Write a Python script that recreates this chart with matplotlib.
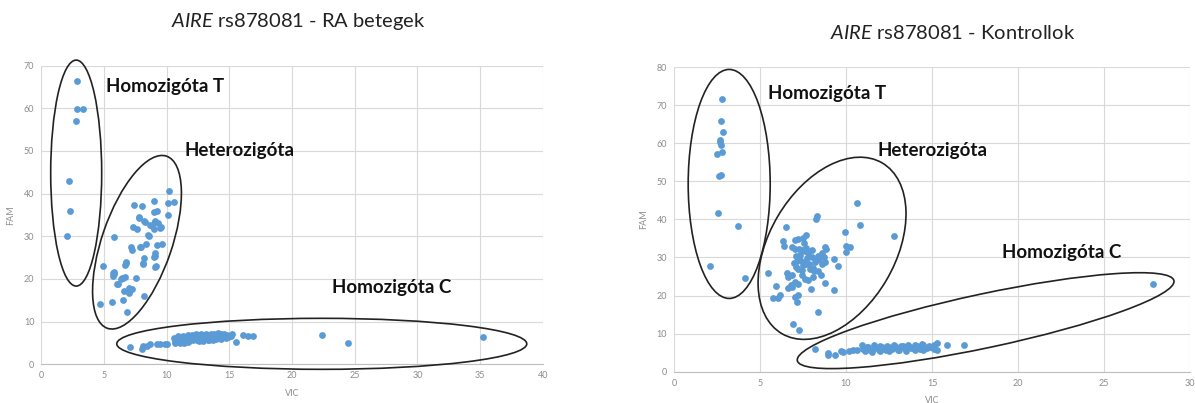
import matplotlib
matplotlib.use("Agg")
import matplotlib.pyplot as plt
from matplotlib.patches import Ellipse
from matplotlib.transforms import ScaledTranslation

plt.rcParams['font.family'] = ['Lato', 'DejaVu Sans']
plt.rcParams['mathtext.fontset'] = 'custom'
plt.rcParams['mathtext.rm'] = 'Lato'
plt.rcParams['mathtext.it'] = 'Lato:italic'

DOT = '#5b9bd5'
GRID = '#d9d9d9'
TICK = '#8c8c8c'

# ---- RA betegek ----
ra_homt_vic = [2.81, 2.85, 3.36, 2.75, 2.23, 2.29, 2.08]
ra_homt_fam = [66.3, 59.8, 59.9, 57.1, 43.0, 35.9, 30.0]

ra_het_vic = [10.17, 10.14, 10.6, 10.08, 9.0, 7.39, 8.06, 9.22, 9.0, 7.79, 8.24, 9.1, 9.28,
              7.3, 7.6, 8.83, 8.95, 9.49, 8.58, 5.80, 9.65, 9.25, 8.31, 7.88, 7.18, 7.24,
              9.04, 9.0, 8.21, 6.78, 6.66, 9.1, 8.12, 4.95, 5.80, 5.77, 5.71, 6.53, 6.47,
              6.35, 7.57, 6.11, 7.02, 7.24, 7.02, 6.56, 8.18, 4.64, 5.65, 6.53, 6.84,
              7.82, 8.22, 9.07, 8.67, 9.55, 8.54, 7.93, 9.07, 9.13, 8.14, 6.73, 5.69, 6.68, 6.06]
ra_het_fam = [40.7, 37.7, 38.0, 35.0, 38.2, 37.4, 37.1, 36.0, 35.7, 34.3, 33.3, 33.3, 33.1,
              32.2, 31.7, 32.4, 31.7, 32.0, 30.0, 29.8, 28.3, 28.0, 28.2, 27.4, 27.4, 26.7,
              26.0, 25.2, 24.8, 24.0, 23.2, 22.9, 23.5, 23.0, 21.7, 21.2, 20.7, 20.3, 20.2,
              20.1, 20.3, 18.8, 17.9, 17.6, 16.8, 17.1, 16.1, 14.2, 14.7, 15.1, 12.3,
              34.5, 33.6, 33.6, 32.6, 32.2, 30.3, 27.5, 25.4, 23.0, 23.7, 23.7, 21.3, 20.5, 18.9]

ra_homc_vic = [7.11, 8.0, 8.09, 8.46, 8.7, 9.22, 9.5, 9.83, 10.05,
               10.6, 10.7, 10.8, 10.9, 11.0, 11.1, 11.2, 11.3, 11.4, 11.5, 11.6, 11.7, 11.8,
               11.9, 12.0, 12.1, 12.2, 12.3, 12.4, 12.5, 12.6, 12.7, 12.8, 12.9, 13.0, 13.1,
               13.2, 13.3, 13.4, 13.5, 13.6, 13.7, 13.8, 13.9, 14.0, 14.1, 14.2, 14.3, 14.4,
               14.5, 14.6, 14.7, 14.8, 14.9, 15.0, 15.2,
               10.7, 10.9, 11.1, 11.3, 11.5, 11.7, 11.9, 12.1, 12.3, 12.5, 12.7, 12.9, 13.1,
               13.3, 13.5, 13.7, 13.9, 14.1, 14.3, 14.5, 14.7, 15.1,
               11.0, 11.4, 11.8, 12.2, 12.6, 13.0, 13.4, 13.8,
               15.5, 16.1, 16.5, 16.9, 22.4, 24.5, 35.2]
ra_homc_fam = [4.0, 3.6, 4.4, 4.3, 4.7, 4.7, 4.7, 4.7, 4.7,
               6.2, 5.0, 5.8, 6.3, 5.2, 6.0, 5.4, 6.6, 5.1, 6.1, 5.7, 6.8, 5.5,
               6.3, 6.9, 5.9, 6.5, 7.1, 5.8, 6.6, 6.2, 7.0, 6.4, 6.0, 6.8, 7.2,
               6.3, 6.9, 6.6, 7.1, 6.2, 6.7, 7.2, 6.4, 6.9, 7.3, 6.6, 7.0, 6.3,
               6.8, 7.1, 6.5, 6.9, 6.3, 6.7, 7.0,
               5.5, 6.6, 4.9, 5.8, 6.5, 5.2, 6.0, 5.6, 6.1, 5.7, 6.5, 5.5, 6.0,
               5.6, 5.9, 5.8, 6.0, 6.2, 5.9, 6.3, 6.1, 6.6,
               5.9, 6.1, 6.4, 6.7, 5.5, 6.3, 5.7, 6.5,
               5.2, 6.8, 6.7, 6.7, 6.8, 5.0, 6.4]

# ---- Kontrollok ----
ko_homt_vic = [2.80, 2.76, 2.83, 2.65, 2.69, 2.76, 2.78, 2.52, 2.74, 2.60, 2.54, 3.75, 2.12, 4.11]
ko_homt_fam = [71.5, 65.8, 63.0, 60.9, 60.2, 59.6, 57.8, 57.1, 51.7, 51.3, 41.6, 38.2, 27.7, 24.7]

ko_het_vic = [10.66, 8.31, 8.26, 10.79, 6.49, 9.94, 12.81, 7.69, 7.52, 7.19, 7.03, 6.32, 6.40,
              10.0, 10.21, 10.0, 8.78, 8.84, 8.62, 8.74, 6.84, 7.03, 7.27, 7.42, 7.62, 7.81,
              9.32, 9.51, 8.35, 8.29, 8.78, 8.58, 7.13, 7.32, 7.52, 7.65, 7.87, 7.07, 7.23,
              7.42, 8.06, 8.16, 8.39, 6.57, 6.65, 6.84, 7.42, 7.62, 7.81, 8.10, 8.54, 5.45,
              7.03, 7.23, 6.80, 6.65, 6.88, 8.78, 7.97, 9.28, 5.91, 6.18, 6.07, 5.74, 7.21,
              7.15, 7.03, 8.39, 6.90, 7.29,
              7.35, 7.75, 8.0, 7.5, 7.9, 8.2, 7.1, 7.7, 8.45, 6.95, 7.55, 8.05]
ko_het_fam = [44.2, 40.9, 40.0, 38.4, 37.9, 36.8, 35.5, 35.9, 35.2, 34.8, 34.7, 34.4, 33.1,
              33.1, 32.8, 31.3, 32.8, 32.2, 31.1, 30.2, 32.8, 32.2, 32.3, 31.9, 31.7, 31.1,
              29.7, 27.7, 30.5, 29.3, 28.9, 28.2, 29.0, 29.2, 28.8, 28.2, 28.4, 27.6, 27.0,
              26.8, 27.2, 26.5, 26.4, 26.0, 24.8, 25.3, 25.3, 24.4, 24.0, 24.8, 25.5, 26.0,
              23.6, 22.9, 22.8, 21.9, 22.3, 23.3, 21.6, 21.4, 22.6, 20.1, 19.3, 19.3, 20.1,
              18.2, 19.7, 15.7, 12.6, 10.9,
              30.6, 29.8, 30.1, 27.9, 26.9, 28.9, 30.4, 32.6, 29.6, 28.6, 33.8, 31.9]

ko_homc_vic = [8.2, 8.97, 8.97, 9.36, 9.85, 9.69, 10.2, 10.43, 10.62, 10.91, 11.01,
               11.2, 11.4, 11.6, 11.8, 12.0, 12.2, 12.4, 12.6, 12.8, 13.0, 13.2, 13.4, 13.6,
               13.8, 14.0, 14.2, 14.4, 14.6, 14.8, 15.0,
               11.1, 11.3, 11.5, 11.7, 11.9, 12.1, 12.3, 12.5, 12.7, 12.9, 13.1, 13.3, 13.5,
               13.7, 13.9, 14.1, 14.3, 14.5, 14.7, 14.9,
               11.5, 12.0, 12.5, 13.0, 13.5, 14.0, 14.5, 15.1, 15.3,
               15.12, 15.3, 15.85, 16.88, 27.84]
ko_homc_fam = [5.9, 5.0, 4.3, 4.5, 5.2, 5.35, 5.35, 5.6, 5.6, 7.1, 6.0,
               6.6, 5.8, 6.9, 6.2, 6.7, 5.9, 6.8, 6.3, 7.0, 6.1, 6.7, 6.4, 7.1,
               6.2, 6.9, 6.5, 7.2, 6.3, 6.8, 6.4,
               5.5, 6.4, 5.7, 6.6, 5.6, 6.5, 5.8, 6.6, 5.9, 6.6, 5.8, 6.7, 6.0,
               6.5, 6.1, 6.8, 6.0, 6.9, 6.2, 6.6,
               5.2, 5.5, 5.4, 5.6, 5.5, 5.7, 5.6, 6.0, 5.8,
               6.9, 7.5, 6.9, 6.9, 22.9]

# ellipse outlines: centre in data units, size in pixels, angle in degrees
ra_rings = [((2.78, 44.8), 51, 226, 0), ((7.63, 28.6), 182, 70, 71), ((22.37, 4.8), 410, 51, 0)]
ko_rings = [((3.21, 49.3), 82, 229, 0), ((9.19, 32.4), 198, 126, 59.5), ((18.12, 13.4), 385, 54, 12)]

ra_labels = [(5.16, 65.0, 'Homozigóta T'), (11.38, 50.0, 'Heterozigóta'), (23.2, 17.9, 'Homozigóta C')]
ko_labels = [(5.47, 73.1, 'Homozigóta T'), (11.86, 58.2, 'Heterozigóta'), (19.07, 31.4, 'Homozigóta C')]


def draw_panel(fig, ax, groups, rings, labels, xmax, ymax):
    ax.set_xlim(0, xmax)
    ax.set_ylim(0, ymax)
    ax.set_xticks(range(0, xmax + 1, 5))
    ax.set_yticks(range(0, ymax + 1, 10))
    ax.grid(True, color=GRID, lw=0.8)
    ax.set_axisbelow(True)
    for s in ['top', 'right', 'left']:
        ax.spines[s].set_visible(False)
    ax.spines['bottom'].set_color('#bfbfbf')
    ax.tick_params(length=0, labelsize=6.5, colors=TICK, pad=5)
    ax.set_xlabel('VIC', fontsize=6.5, color=TICK, labelpad=6)
    ax.set_ylabel('FAM', fontsize=6.5, color=TICK, labelpad=6)

    for xs, ys in groups:
        ax.scatter(xs, ys, s=24, color=DOT, linewidths=0, zorder=3, clip_on=False)

    for (cx, cy), w, h, ang in rings:
        tr = fig.dpi_scale_trans + ScaledTranslation(cx, cy, ax.transData)
        ax.add_patch(Ellipse((0, 0), w / 100, h / 100, angle=ang, transform=tr,
                             fill=False, ec='#222222', lw=1.2, clip_on=False, zorder=4))

    for x, y, t in labels:
        ax.text(x, y, t, fontsize=13.5, fontweight='bold', color='#111111',
                ha='left', va='center', zorder=5)


fig = plt.figure(figsize=(11.95, 4.03), dpi=100)
ax1 = fig.add_axes([0.0346, 0.0960, 0.4196, 0.7414])
ax2 = fig.add_axes([0.5640, 0.0777, 0.4318, 0.7560])

draw_panel(fig, ax1,
           [(ra_homt_vic, ra_homt_fam), (ra_het_vic, ra_het_fam), (ra_homc_vic, ra_homc_fam)],
           ra_rings, ra_labels, 40, 70)
draw_panel(fig, ax2,
           [(ko_homt_vic, ko_homt_fam), (ko_het_vic, ko_het_fam), (ko_homc_vic, ko_homc_fam)],
           ko_rings, ko_labels, 30, 80)

fig.text(298 / 1195, 1 - 22 / 403, r'$\mathit{AIRE}$ rs878081 - RA betegek',
         fontsize=14.5, color='#222222', ha='center', va='center')
fig.text(953 / 1195, 1 - 33 / 403, r'$\mathit{AIRE}$ rs878081 - Kontrollok',
         fontsize=14.5, color='#222222', ha='center', va='center')

fig.savefig('out.png', dpi=100)
